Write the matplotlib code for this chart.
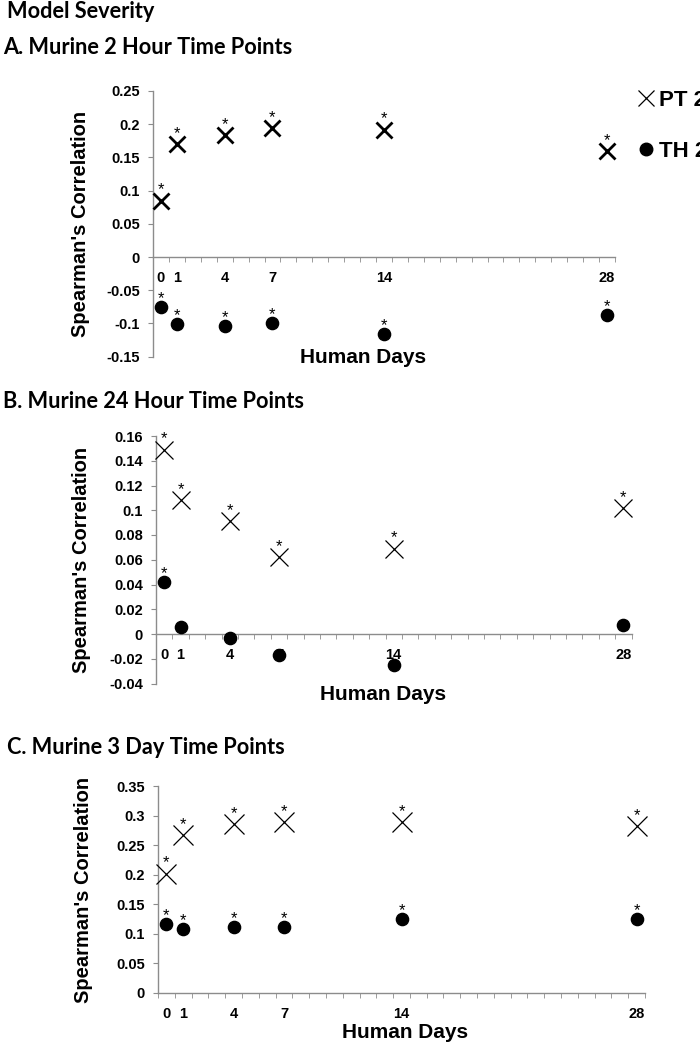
import matplotlib
matplotlib.use("Agg")
import matplotlib.pyplot as plt
from matplotlib.lines import Line2D
from matplotlib.ticker import FixedLocator, FuncFormatter

plt.rcParams.update({
    "font.family": ["Liberation Sans", "DejaVu Sans"],
    "font.weight": "bold",
    "axes.spines.top": False,
    "axes.spines.right": False,
})

W, H = 700, 1050
GRID = "#8c8c8c"
TITLE_FONT = ["Lato", "DejaVu Sans"]

days = [0, 1, 4, 7, 14, 28]

# panel A: murine 2 hour
pt_2h = [0.085, 0.170, 0.183, 0.194, 0.192, 0.159]
th_2h = [-0.075, -0.101, -0.104, -0.100, -0.116, -0.087]
th_2h_star = [True, True, True, True, True, True]

# panel B: murine 24 hour
pt_24h = [0.149, 0.108, 0.091, 0.062, 0.069, 0.102]
th_24h = [0.042, 0.006, -0.003, -0.017, -0.025, 0.007]
th_24h_star = [True, False, False, False, False, False]

# panel C: murine 3 day
pt_3d = [0.202, 0.267, 0.286, 0.289, 0.289, 0.282]
th_3d = [0.117, 0.108, 0.112, 0.112, 0.125, 0.125]
th_3d_star = [True, True, True, True, True, True]

fig = plt.figure(figsize=(W / 100, H / 100), dpi=100)


def px_axes(left, right, top, bottom):
    return fig.add_axes([left / W, 1 - bottom / H, (right - left) / W, (bottom - top) / H])


def panel(ax, pt, th, th_star, ylim, ystep, xms, xmew, xlab_xy, ylab_x, box):
    left, right, top, bottom = box
    ax.plot(days, pt, ls="none", marker="x", ms=xms, mew=xmew, color="black",
            zorder=3, clip_on=False)
    ax.plot(days, th, ls="none", marker="o", ms=8.8, color="black",
            zorder=3, clip_on=False)
    for d, v in zip(days, pt):
        ax.annotate("*", (d, v), xytext=(0, 6), textcoords="offset pixels",
                    ha="center", va="baseline", fontsize=12, fontweight="normal")
    for d, v, s in zip(days, th, th_star):
        if s:
            ax.annotate("*", (d, v), xytext=(0, 4), textcoords="offset pixels",
                        ha="center", va="baseline", fontsize=12, fontweight="normal")
    ax.set_xlim(-0.5, 28.5)
    ax.set_ylim(*ylim)
    n = int(round((ylim[1] - ylim[0]) / ystep))
    ax.set_yticks([ylim[0] + i * ystep for i in range(n + 1)])
    ax.yaxis.set_major_formatter(FuncFormatter(lambda v, p: f"{round(v, 3):g}"))
    ax.set_xticks(days)
    ax.set_xticklabels([str(d) for d in days])
    ax.xaxis.set_minor_locator(FixedLocator([i - 0.5 for i in range(30)]))
    ax.spines["bottom"].set_position(("data", 0))
    for s in ("left", "bottom"):
        ax.spines[s].set_color(GRID)
        ax.spines[s].set_linewidth(1.0)
    ax.tick_params(axis="x", which="major", length=0, pad=10, labelsize=10.5)
    ax.tick_params(axis="x", which="minor", length=3.5, color=GRID, direction="out")
    ax.tick_params(axis="y", length=3.5, color=GRID, pad=6, labelsize=10.5)
    ax.set_ylabel("Spearman's Correlation", fontsize=14.5, fontweight="bold")
    ax.yaxis.set_label_coords((ylab_x - left) / (right - left), 0.5)
    ax.text((xlab_xy[0] - left) / (right - left), (bottom - xlab_xy[1]) / (bottom - top),
            "Human Days", transform=ax.transAxes, ha="center", va="center",
            fontsize=15, fontweight="bold")


boxA = (153, 615, 91, 356.6)
axA = px_axes(*boxA)
panel(axA, pt_2h, th_2h, th_2h_star, (-0.15, 0.25), 0.05, 12, 2.0, (363, 357), 90, boxA)

boxB = (156, 631.5, 436, 683.5)
axB = px_axes(*boxB)
panel(axB, pt_24h, th_24h, th_24h_star, (-0.04, 0.16), 0.02, 13, 0.9, (383, 695), 91, boxB)

boxC = (158, 645, 786, 993)
axC = px_axes(*boxC)
panel(axC, pt_3d, th_3d, th_3d_star, (0, 0.35), 0.05, 14, 0.9, (405, 1033), 93, boxC)

# titles
title_kw = dict(family=TITLE_FONT, fontsize=15.7, fontweight="bold", ha="left", va="center")
fig.text(7 / W, 1 - 12 / H, "Model Severity", **title_kw)
fig.text(3 / W, 1 - 47 / H, "A. Murine 2 Hour Time Points", **title_kw)
fig.text(3 / W, 1 - 402 / H, "B. Murine 24 Hour Time Points", **title_kw)
fig.text(7 / W, 1 - 747 / H, "C. Murine 3 Day Time Points", **title_kw)

# legend (runs off the right edge like the source)
handles = [Line2D([], [], ls="none", marker="x", ms=11, mew=0.9, color="black"),
           Line2D([], [], ls="none", marker="o", ms=9, color="black")]
fig.legend(handles, ["PT 2 Hour", "TH 2 Hour"], loc="upper left",
           bbox_to_anchor=(638 / W, 1 - 90 / H), frameon=False,
           prop={"size": 16, "weight": "bold"}, handlelength=0.7,
           handletextpad=0.25, labelspacing=1.35, borderpad=0, borderaxespad=0)

fig.savefig("out.png", dpi=100)
